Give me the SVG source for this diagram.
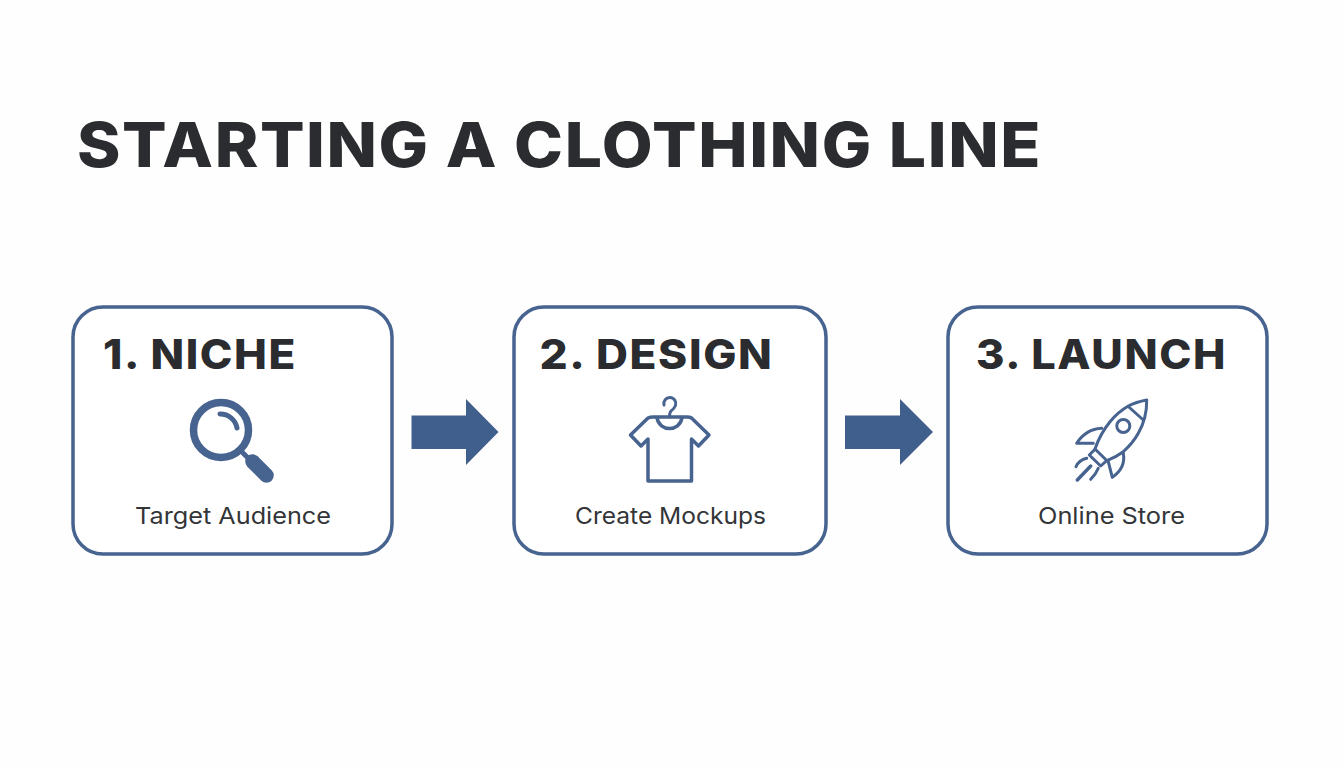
<svg xmlns="http://www.w3.org/2000/svg" width="1344" height="768" viewBox="0 0 1344 768">
<style>
.t{font-family:"Inter","Liberation Sans",sans-serif;font-weight:800;fill:#2a2c2f;letter-spacing:1.500px}
.h{font-size:41px}
.s{font-family:"Inter","Liberation Sans",sans-serif;font-size:23px;fill:#333538}
.box{fill:#fff;stroke:#47638f;stroke-width:3.5}
.ic{fill:none;stroke:#47638f;stroke-linejoin:round;stroke-linecap:round}
.ar{fill:#415f8c}
</style>
<rect width="1344" height="768" fill="#fefefe"/>
<text id="title" class="t" x="77" y="167" font-size="62" textLength="965" lengthAdjust="spacingAndGlyphs">STARTING A CLOTHING LINE</text>
<g id="connectors">
<path class="ar" d="M411.500 415.500H466V399L498.500 432L466 465V449H411.500Z"/>
<path class="ar" d="M845 415.500H900V399L933 432L900 465V449H845Z"/>
</g>
<g id="node1">
<rect class="box" x="73" y="307" width="319" height="247" rx="30"/>
<text class="t h" x="103" y="369" textLength="194" lengthAdjust="spacingAndGlyphs">1. NICHE</text>
<circle cx="221" cy="430" r="27.500" fill="none" stroke="#47638f" stroke-width="7.500"/>
<path class="ic" d="M220 414A17 17 0 0 1 237 428" stroke-width="5" stroke-linecap="butt"/>
<path class="ic" d="M252.500 461.500L266.500 475.500" stroke-width="14.500"/>
<path class="ic" d="M242 452L250 460" stroke-width="5" stroke-linecap="butt"/>
<text class="s" x="135" y="524" textLength="196" lengthAdjust="spacingAndGlyphs">Target Audience</text>
</g>
<g id="node2">
<rect class="box" x="514" y="307" width="312" height="247" rx="30"/>
<text class="t h" x="539.500" y="369" textLength="234" lengthAdjust="spacingAndGlyphs">2. DESIGN</text>
<path class="ic" stroke-width="3.500" d="M648 418L630.500 435L641 446L648 439V481H691.500V439L698.500 446L709 435L691.500 418Q690 417 687 417H653Q650 417 648 418Z"/>
<path class="ic" stroke-width="3.500" d="M657 417.500C658 425 664 428.500 669.500 428.500C675 428.500 681 425 682 417.500"/>
<path class="ic" stroke-width="3" d="M664 405A6 6 0 1 1 675.500 405.500Q674 409 671 411Q669.500 412.500 669.500 417"/>
<text class="s" x="575" y="524" textLength="191" lengthAdjust="spacingAndGlyphs">Create Mockups</text>
</g>
<g id="node3">
<rect class="box" x="948" y="307" width="319" height="247" rx="30"/>
<text class="t h" x="976" y="369" textLength="251" lengthAdjust="spacingAndGlyphs">3. LAUNCH</text>
<g class="ic" stroke-width="3">
<path d="M1146.700 400Q1136 402 1128.300 406Q1118 412 1110 421.700Q1100 434 1095 449L1107 460.700Q1116 457 1123.300 451.700Q1133 443 1138.300 433.300Q1147 418 1146.700 400Z"/>
<path d="M1128.300 406.500L1143.300 420"/>
<circle cx="1123.300" cy="426" r="6.500"/>
<path d="M1101.700 428.300Q1086 429 1076.700 443.300H1093.300"/>
<path d="M1123.300 453.300Q1126 468 1112.300 477.300L1108.300 461.700"/>
<path d="M1095 449.300L1089.300 455L1100.700 466L1106.700 460.700"/>
<path d="M1086.700 458.300Q1079 460 1076 466.700"/>
<path d="M1090.700 466L1077.300 480" stroke-width="3.500"/>
<path d="M1098.300 468.300Q1096 474 1090.700 479.300"/>
</g>
<text class="s" x="1038" y="524" textLength="147" lengthAdjust="spacingAndGlyphs">Online Store</text>
</g>
</svg>
